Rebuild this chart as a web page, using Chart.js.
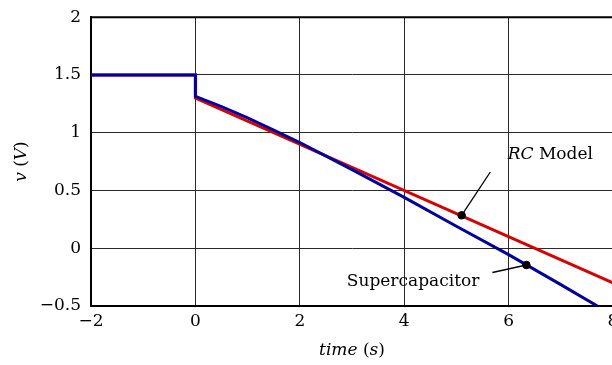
<!DOCTYPE html>
<html><head><meta charset="utf-8">
<script src="https://cdn.jsdelivr.net/npm/chart.js@4"></script>
<style>html,body{margin:0;padding:0;overflow:hidden;background:#fff;width:612px;height:365px}canvas{display:block}</style>
</head><body>
<canvas id="c" width="626" height="365"></canvas>
<script>
// Data
const xTicks = [-2, 0, 2, 4, 6, 8];
const yTicks = [-0.5, 0, 0.5, 1, 1.5, 2];
const rcX = [-2, 0, 0, 8];
const rcY = [1.5, 1.5, 1.3, -0.3];
const scX = [-2, 0, 0, 0.5, 1, 1.5, 2, 3, 4, 5, 6, 7, 7.7];
const scY = [1.5, 1.5, 1.315, 1.225, 1.128, 1.022, 0.915, 0.68, 0.44, 0.19, -0.055, -0.315, -0.5];
const markX = [5.1, 6.34];
const markY = [0.285, -0.145];
const leaderRC = {x: [5.1, 5.65], y: [0.285, 0.66]};
const leaderSC = {x: [5.69, 6.34], y: [-0.21, -0.145]};
const labelRC = {x: 6.8, y: 0.81};
const labelSC = {x: 4.17, y: -0.285};

const FONT = "'DejaVu Serif', 'Liberation Serif', serif";
const FS = 17;
const toPts = (xs, ys) => xs.map((x, i) => ({x, y: ys[i]}));
const fmt = v => (v < 0 ? '\u2212' + Math.abs(v) : String(v));

function drawRich(ctx, parts, x, y) {
  let tw = 0;
  parts.forEach(p => { ctx.font = (p[1] ? 'italic ' : '') + FS + 'px ' + FONT; tw += ctx.measureText(p[0]).width; });
  let cx = x - tw / 2;
  ctx.textAlign = 'left';
  parts.forEach(p => { ctx.font = (p[1] ? 'italic ' : '') + FS + 'px ' + FONT; ctx.fillText(p[0], cx, y); cx += ctx.measureText(p[0]).width; });
}

const textPlugin = {
  id: 'texts',
  afterDraw(chart) {
    const ctx = chart.ctx, xs = chart.scales.x, ys = chart.scales.y, ca = chart.chartArea;
    ctx.save();
    ctx.fillStyle = '#000';
    ctx.textBaseline = 'middle';
    drawRich(ctx, [['RC', true], [' Model', false]], xs.getPixelForValue(labelRC.x), ys.getPixelForValue(labelRC.y));
    drawRich(ctx, [['Supercapacitor', false]], xs.getPixelForValue(labelSC.x), ys.getPixelForValue(labelSC.y));
    drawRich(ctx, [['time', true], [' (', false], ['s', true], [')', false]], (ca.left + ca.right) / 2, 351);
    ctx.translate(22, (ca.top + ca.bottom) / 2);
    ctx.rotate(-Math.PI / 2);
    drawRich(ctx, [['v', true], [' (', false], ['V', true], [')', false]], 0, 0);
    ctx.restore();
    // top frame line
    ctx.save(); ctx.strokeStyle = '#000'; ctx.lineWidth = 2;
    ctx.beginPath(); ctx.moveTo(ca.left, ca.top); ctx.lineTo(ca.right, ca.top); ctx.stroke();
    ctx.restore();
  }
};

new Chart(document.getElementById('c'), {
  type: 'scatter',
  data: {
    datasets: [
      {data: toPts(markX, markY), order: 0, showLine: false, pointRadius: 3.8, pointBackgroundColor: '#000', pointBorderColor: '#000'},
      {data: toPts(leaderRC.x, leaderRC.y), order: 1, showLine: true, borderColor: '#000', borderWidth: 1.3, pointRadius: 0},
      {data: toPts(leaderSC.x, leaderSC.y), order: 1, showLine: true, borderColor: '#000', borderWidth: 1.3, pointRadius: 0},
      {data: toPts(scX, scY), order: 2, showLine: true, borderColor: 'rgb(0,0,160)', borderWidth: 3, pointRadius: 0, tension: 0},
      {data: toPts(rcX, rcY), order: 3, showLine: true, borderColor: 'rgb(215,0,0)', borderWidth: 3, pointRadius: 0, tension: 0}
    ]
  },
  options: {
    responsive: false,
    animation: false,
    events: [],
    layout: {padding: {top: 10, right: 13, left: 0, bottom: 0}},
    plugins: {legend: {display: false}, tooltip: {enabled: false}},
    scales: {
      x: {
        type: 'linear', min: -2, max: 8,
        afterBuildTicks: s => { s.ticks = xTicks.map(v => ({value: v})); },
        afterFit: s => { s.height = 59; },
        grid: {color: '#2a2a2a', lineWidth: 1, drawTicks: false},
        border: {color: '#000', width: 2},
        ticks: {color: '#000', font: {family: FONT, size: FS}, padding: 5, callback: v => fmt(v), maxRotation: 0}
      },
      y: {
        type: 'linear', min: -0.5, max: 2,
        afterBuildTicks: s => { s.ticks = yTicks.map(v => ({value: v})); },
        afterFit: s => { s.width = 91; },
        grid: {color: '#2a2a2a', lineWidth: 1, drawTicks: true, tickLength: 3, tickColor: 'rgba(0,0,0,0)'},
        border: {color: '#000', width: 2},
        ticks: {color: '#000', font: {family: FONT, size: FS}, padding: 7, callback: v => fmt(v)}
      }
    }
  },
  plugins: [textPlugin]
});
</script>
</body></html>
